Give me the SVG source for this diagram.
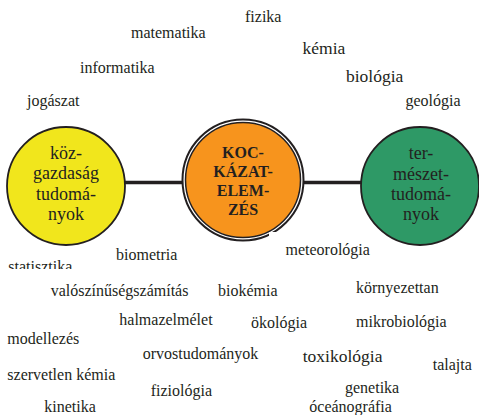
<svg xmlns="http://www.w3.org/2000/svg" width="479" height="415" viewBox="0 0 479 415">
<defs>
<clipPath id="clipStat"><rect x="0" y="250" width="120" height="19"/></clipPath>
</defs>
<rect width="479" height="415" fill="#ffffff"/>
<g id="connectors" stroke="#231f20" stroke-width="3.5">
<line x1="125" y1="182.5" x2="183" y2="182.5"/>
<line x1="303" y1="182.5" x2="362" y2="182.5"/>
</g>
<g id="node-kozgazdasag" font-family="Liberation Serif" font-size="18" fill="#231f20" text-anchor="middle">
<circle cx="66" cy="186" r="59" fill="#f1e61c" stroke="#231f20" stroke-width="1.8"/>
<text x="66" y="159">köz-</text>
<text x="66" y="179">gazdaság</text>
<text x="66" y="200">tudomá-</text>
<text x="66" y="219.5">nyok</text>
</g>
<g id="node-kockazatelemzes" font-family="Liberation Serif" font-size="16" font-weight="bold" fill="#231f20" text-anchor="middle">
<circle cx="243" cy="180" r="60.5" fill="#ffffff" stroke="#231f20" stroke-width="2"/>
<circle cx="243" cy="180" r="57.5" fill="#f7941d" stroke="#231f20" stroke-width="1.5"/>
<text x="243" y="158">KOC-</text>
<text x="243" y="176.5">KÁZAT-</text>
<text x="243" y="196">ELEM-</text>
<text x="243" y="214.5">ZÉS</text>
</g>
<g id="node-termeszettudomanyok" font-family="Liberation Serif" font-size="18" fill="#231f20" text-anchor="middle">
<circle cx="420" cy="186" r="59" fill="#2e9966" stroke="#231f20" stroke-width="1.8"/>
<text x="421" y="158.5">ter-</text>
<text x="421" y="180">mészet-</text>
<text x="421" y="200">tudomá-</text>
<text x="421" y="219.5">nyok</text>
</g>
<rect x="269" y="232" width="40" height="12" fill="#ffffff"/>
<g id="labels" font-family="Liberation Serif" font-size="16" fill="#231f20">
<text x="245" y="22">fizika</text>
<text x="131" y="38">matematika</text>
<text x="302.5" y="53.5" font-size="17.5">kémia</text>
<text x="80" y="72.5">informatika</text>
<text x="346" y="82" font-size="17.5">biológia</text>
<text x="27" y="106">jogászat</text>
<text x="405.5" y="106">geológia</text>
<text x="285.5" y="254.5">meteorológia</text>
<text x="116" y="259.5">biometria</text>
<text x="8.3" y="272" clip-path="url(#clipStat)">statisztika</text>
<text x="50.7" y="296">valószínűségszámítás</text>
<text x="218" y="296">biokémia</text>
<text x="356" y="292.7">környezettan</text>
<text x="119.3" y="325">halmazelmélet</text>
<text x="251" y="328.3">ökológia</text>
<text x="356" y="326.7">mikrobiológia</text>
<text x="7.3" y="344">modellezés</text>
<text x="142.7" y="359.3">orvostudományok</text>
<text x="302.7" y="361.7" font-size="17.5">toxikológia</text>
<text x="432.7" y="370">talajta</text>
<text x="7.3" y="380">szervetlen kémia</text>
<text x="345" y="393.3">genetika</text>
<text x="150.7" y="395.7">fiziológia</text>
<text x="44.3" y="412.3">kinetika</text>
<text x="309.3" y="412.3">óceánográfia</text>
</g>
</svg>
